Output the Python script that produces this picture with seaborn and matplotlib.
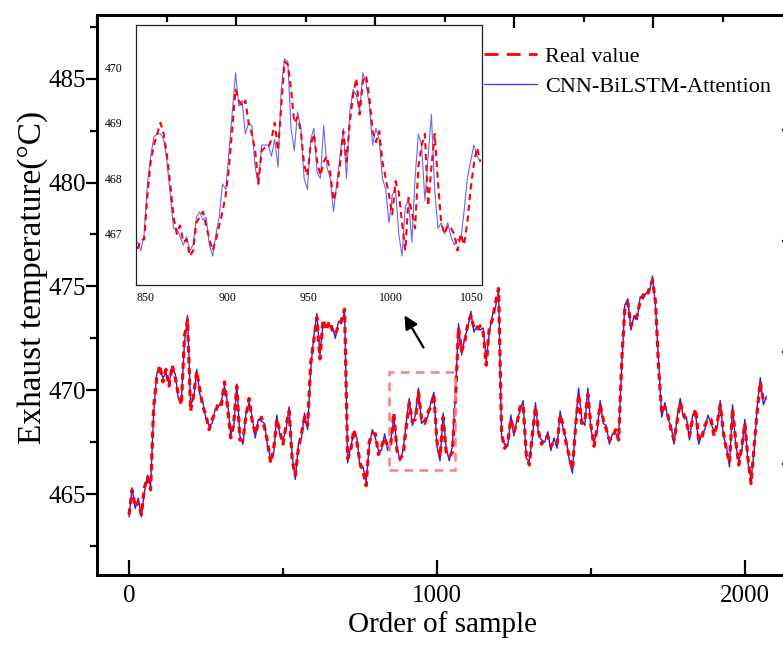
import numpy as np
import matplotlib
matplotlib.use("Agg")
import matplotlib.pyplot as plt
import seaborn as sns
import pandas as pd
from matplotlib.lines import Line2D
from matplotlib.patches import Rectangle

# ---------------- data ----------------
sample_step = 10
real_main = [
    464.0, 465.2, 464.4, 464.6, 464.0, 465.3, 465.8, 465.2, 469.2, 470.6,
    471.2, 470.4, 471.0, 470.2, 471.2, 470.6, 469.8, 469.3, 472.6, 473.4,
    469.0, 469.8, 470.9, 470.0, 469.2, 468.8, 468.1, 468.6, 468.9, 469.4,
    469.3, 470.4, 469.2, 467.7, 468.4, 470.2, 467.6, 467.6, 468.8, 469.6,
    468.5, 467.9, 468.4, 468.7, 468.2, 467.5, 466.5, 467.2, 468.6, 468.0,
    467.4, 468.3, 469.0, 466.6, 465.9, 467.2, 467.9, 468.7, 468.3, 471.3,
    472.4, 473.5, 471.5, 473.4, 472.9, 473.3, 472.9, 472.7, 473.1, 473.4,
    473.9, 466.7, 467.1, 468.1, 467.5, 466.5, 466.1, 465.4, 467.5, 467.9,
    467.9, 466.9, 467.3, 467.7, 467.3, 467.4, 468.9, 467.1, 466.7, 466.9,
    468.2, 469.4, 468.5, 468.6, 469.9, 468.6, 468.4, 468.9, 469.2, 469.8,
    467.5, 466.8, 468.7, 467.0, 466.8, 467.0, 469.5, 473.0, 471.9, 472.3,
    473.2, 473.6, 473.0, 472.9, 473.1, 472.8, 471.2, 473.0, 473.4, 474.2,
    474.9, 467.9, 467.2, 467.5, 468.6, 468.0, 468.4, 469.2, 469.3, 466.9,
    466.4, 467.9, 469.2, 468.0, 467.4, 467.7, 467.8, 467.3, 467.5, 467.4,
    468.8, 468.3, 467.4, 466.8, 466.2, 468.2, 469.8, 468.4, 468.5, 469.8,
    468.3, 467.3, 468.2, 469.3, 468.6, 468.1, 467.6, 467.7, 468.1, 467.6,
    471.4, 473.9, 474.2, 473.1, 473.4, 473.6, 474.3, 474.6, 474.5, 474.9,
    475.3, 474.2, 471.0, 468.9, 469.2, 468.8, 468.1, 467.6, 468.5, 469.4,
    468.9, 468.5, 467.8, 468.6, 469.1, 467.6, 467.7, 468.3, 468.6, 468.6,
    467.8, 468.4, 469.3, 468.0, 467.1, 466.5, 469.1, 467.6, 466.4, 467.3,
    468.4, 466.7, 465.5, 467.3, 469.0, 470.4, 469.5, 469.6,
]
pred_main = [
    463.9, 465.3, 464.3, 464.8, 463.9, 465.1, 465.9, 465.4, 468.9, 470.8,
    471.0, 470.6, 470.8, 470.4, 471.0, 470.8, 469.6, 469.5, 472.3, 473.6,
    469.3, 469.6, 471.0, 469.8, 469.4, 468.6, 468.3, 468.4, 469.1, 469.2,
    469.5, 470.2, 469.4, 467.9, 468.2, 470.3, 467.8, 467.4, 468.9, 469.4,
    468.7, 467.7, 468.6, 468.5, 468.4, 467.3, 466.7, 467.0, 468.8, 467.8,
    467.6, 468.1, 469.2, 466.8, 465.7, 467.4, 467.7, 468.9, 468.1, 471.0,
    472.6, 473.7, 471.7, 473.2, 473.1, 473.1, 473.1, 472.5, 473.3, 473.2,
    473.8, 466.5, 467.3, 467.9, 467.7, 466.3, 466.3, 465.6, 467.3, 468.1,
    467.7, 467.1, 467.1, 467.9, 467.1, 467.6, 468.7, 467.3, 466.6, 467.1,
    468.4, 469.6, 468.3, 468.8, 470.1, 468.4, 468.6, 468.7, 469.4, 469.9,
    467.3, 466.6, 468.9, 467.2, 466.6, 467.3, 469.8, 473.2, 471.7, 472.5,
    473.0, 473.8, 472.8, 473.1, 472.9, 473.0, 471.4, 472.8, 473.6, 474.0,
    474.8, 467.7, 467.4, 467.3, 468.8, 467.8, 468.6, 469.0, 469.5, 466.7,
    466.6, 467.7, 469.4, 467.8, 467.6, 467.5, 468.0, 467.1, 467.7, 467.2,
    469.0, 468.1, 467.6, 466.6, 466.0, 468.4, 470.1, 468.6, 468.3, 470.1,
    468.1, 467.5, 468.0, 469.5, 468.4, 468.3, 467.4, 467.9, 467.9, 467.8,
    471.1, 474.1, 474.4, 472.9, 473.6, 473.4, 474.5, 474.4, 474.7, 474.7,
    475.5, 474.0, 471.3, 468.7, 469.4, 468.6, 468.3, 467.4, 468.7, 469.6,
    468.7, 468.7, 467.6, 468.8, 468.9, 467.4, 467.9, 468.1, 468.8, 468.4,
    468.0, 468.2, 469.5, 467.8, 467.3, 466.3, 469.3, 467.4, 466.6, 467.1,
    468.6, 466.5, 465.7, 467.1, 469.2, 470.6, 469.3, 469.7,
]
sample_main = np.arange(len(real_main)) * sample_step

inset_start, inset_step = 845, 2
real_inset = [
    466.73, 466.9, 466.9, 467.7, 468.3, 468.6, 468.8, 469.0, 468.8, 468.4,
    467.9, 467.3, 467.0, 467.15, 466.85, 466.9, 466.6, 466.7, 467.2, 467.3,
    467.4, 467.15, 466.9, 466.7, 466.9, 467.15,
    467.4, 467.7, 468.2, 468.9, 469.6, 469.4, 469.3, 469.4, 469.0, 468.8,
    468.5, 467.9, 468.5, 468.55, 468.55, 468.7, 469.0, 468.5, 469.3, 470.1,
    470.05, 469.6, 469.0, 469.1, 468.85, 468.25, 468.05, 468.6, 468.8, 468.3,
    468.05, 468.3, 468.4, 468.1, 467.6, 467.8, 468.25, 468.85, 468.3, 469.0,
    469.5, 469.8, 469.15, 469.75, 469.85, 469.45, 468.85, 468.65, 468.85, 468.3,
    468.0,
    467.7, 467.35, 467.95, 467.75, 467.2, 466.7, 467.65, 467.4, 467.1, 468.2,
    468.6, 468.8, 467.5, 468.2, 468.8, 467.95, 467.2, 467.0, 467.15, 467.1,
    467.0, 466.7, 467.0, 466.8, 467.2, 467.8, 468.25, 468.55, 468.3,
]
pred_inset = [
    466.85, 466.7, 467.0, 467.9, 468.4, 468.75, 468.8, 468.8, 468.7, 468.3,
    467.7, 467.1, 467.1, 466.95, 466.8, 466.95, 466.7, 466.8, 467.3, 467.4,
    467.25, 467.3, 466.8, 466.6, 467.0, 467.3, 467.9, 467.8, 468.5, 469.2,
    469.9, 469.3, 469.4, 468.8, 469.0, 468.95, 468.2, 467.9, 468.6, 468.6,
    468.6, 468.4, 468.7, 468.2, 469.6, 470.15, 470.1, 468.9, 468.5, 469.2,
    468.9, 468.0, 467.8, 468.7, 468.9, 468.1, 468.0, 468.95, 468.2, 468.0,
    467.4, 467.9, 468.4, 468.9, 468.0, 469.2, 469.6, 469.5, 469.2, 469.9,
    469.7, 469.3, 468.6, 468.9, 468.7, 468.0, 467.8, 467.2, 467.7, 467.8,
    467.0, 466.6, 467.5, 467.6, 466.85, 468.0, 468.8, 468.6, 467.6, 468.4,
    469.15, 467.8, 467.1, 467.2, 467.0, 467.2, 466.95, 466.8, 466.9, 466.9,
    467.4, 468.0, 468.3, 468.6, 468.4, 468.3,
]
sample_inset = inset_start + np.arange(len(real_inset)) * inset_step

x_ticks = [0, 1000, 2000]
y_ticks = [465, 470, 475, 480, 485]
inset_x_ticks = [850, 900, 950, 1000, 1050]
inset_y_ticks = [467, 468, 469, 470]
labels = ["Real value", "CNN-BiLSTM-Attention"]

assert len(real_main) == len(pred_main)
assert len(real_inset) == len(pred_inset)

df_main = pd.DataFrame({"sample": sample_main, "real": real_main, "pred": pred_main})
df_in = pd.DataFrame({"sample": sample_inset, "real": real_inset, "pred": pred_inset})

# ---------------- style ----------------
sns.set_style("white", rc={"axes.edgecolor": "black", "text.color": "black",
                           "axes.labelcolor": "black", "xtick.color": "black",
                           "ytick.color": "black"})
plt.rcParams["font.family"] = ["Liberation Serif", "DejaVu Serif"]
plt.rcParams["axes.linewidth"] = 1.8

W, H = 783, 651
TOP, BOT, LEFT = 15, 575, 97
fig = plt.figure(figsize=(W / 100, H / 100), dpi=100)
ax = fig.add_axes([LEFT / W, 1 - BOT / H, 691 / W, (BOT - TOP) / H])

RED = "#FF0000"
BLUE = "#2020FF"

sns.lineplot(data=df_main, x="sample", y="pred", ax=ax, color=BLUE, lw=1.0,
             estimator=None, sort=False)
sns.lineplot(data=df_main, x="sample", y="real", ax=ax, color=RED, lw=2.3,
             estimator=None, sort=False, linestyle=(0, (2.0, 1.4)))

ax.set_xlim(-104, 2140)
ax.set_ylim(461.1, 488.07)
ax.set_xticks(x_ticks)
ax.set_xticks([500, 1500], minor=True)
ax.set_yticks(y_ticks)
ax.set_yticks([462.5, 467.5, 472.5, 477.5, 482.5, 487.5], minor=True)
ax.tick_params(axis="x", which="major", direction="in", length=11, width=1.6,
               labelsize=18, pad=7, top=False)
ax.tick_params(axis="x", which="minor", direction="in", length=5, width=1.6, top=False)
ax.tick_params(axis="y", which="major", direction="out", length=8, width=1.6,
               labelsize=18, pad=0, right=False)
ax.tick_params(axis="y", which="minor", direction="out", length=5, width=1.6, right=False)
ax.set_xlabel("Order of sample", fontsize=21, labelpad=3)
ax.set_ylabel("Exhaust temperature(°C)", fontsize=24)
ax.yaxis.set_label_coords((48 - LEFT) / 691, 1 - (277 - TOP) / (BOT - TOP))
for s in ax.spines.values():
    s.set_linewidth(1.8)

# extra ticks on the top and right frame (secondary layer)
axt = ax.twiny()
axt.set_xlim(0, 691 / 139)
axt.set_xticks([0, 1, 2, 3, 4])
axt.set_xticks([0.5, 1.5, 2.5, 3.5, 4.5], minor=True)
axt.tick_params(axis="x", which="major", direction="in", length=9, width=1.6, labeltop=False)
axt.tick_params(axis="x", which="minor", direction="in", length=5, width=1.6)
axr = ax.twinx()
axr.set_ylim(0, (BOT - TOP) / 111.3)
axr.set_yticks([1, 2, 3, 4])
axr.tick_params(axis="y", direction="in", length=4, width=1.6, labelright=False)
for a in (axt, axr):
    for s in a.spines.values():
        s.set_linewidth(1.8)

# zoom box and arrow
ax.add_patch(Rectangle((844, 466.16), 1058 - 844, 470.88 - 466.16, fill=False,
                       edgecolor="#FF7F7F", lw=1.8, linestyle=(0, (3.5, 2.5)), zorder=5))
ax.annotate("", xy=(890, 473.72), xytext=(961, 471.94),
            arrowprops=dict(arrowstyle="-|>", color="black", lw=1.6, mutation_scale=20))

# inset
axin = fig.add_axes([136 / W, 1 - 285 / H, 346 / W, (285 - 25) / H])
sns.lineplot(data=df_in, x="sample", y="pred", ax=axin, color="#6666FF", lw=0.8,
             estimator=None, sort=False)
sns.lineplot(data=df_in, x="sample", y="real", ax=axin, color=RED, lw=1.5,
             estimator=None, sort=False, linestyle=(0, (3.0, 2.2)))
axin.set_xlim(844, 1056)
axin.set_ylim(466.08, 470.76)
axin.set_xticks(inset_x_ticks)
axin.set_xticks([875, 925, 975, 1025], minor=True)
axin.set_yticks(inset_y_ticks)
axin.set_yticks([466.5, 467.5, 468.5, 469.5, 470.5], minor=True)
axin.tick_params(axis="x", which="major", direction="in", length=4, width=0.8,
                 labelsize=8.5, pad=5)
axin.tick_params(axis="y", which="major", direction="in", length=4, width=0.8,
                 labelsize=8.5, pad=10)
axin.tick_params(axis="both", which="minor", direction="in", length=2, width=0.8)
axin.set_xlabel("")
axin.set_ylabel("")
for s in axin.spines.values():
    s.set_linewidth(0.9)
    s.set_color("#222222")

# legend
handles = [Line2D([], [], color=RED, lw=2.0, linestyle=(0, (5, 3))),
           Line2D([], [], color="#4040FF", lw=1.0)]
fig.legend(handles, labels, loc="upper left", bbox_to_anchor=(484 / W, 1 - 46 / H),
           frameon=False, fontsize=16, handlelength=2.4, handletextpad=0.35,
           labelspacing=0.45, borderpad=0, borderaxespad=0)

fig.savefig("out.png", dpi=100)
